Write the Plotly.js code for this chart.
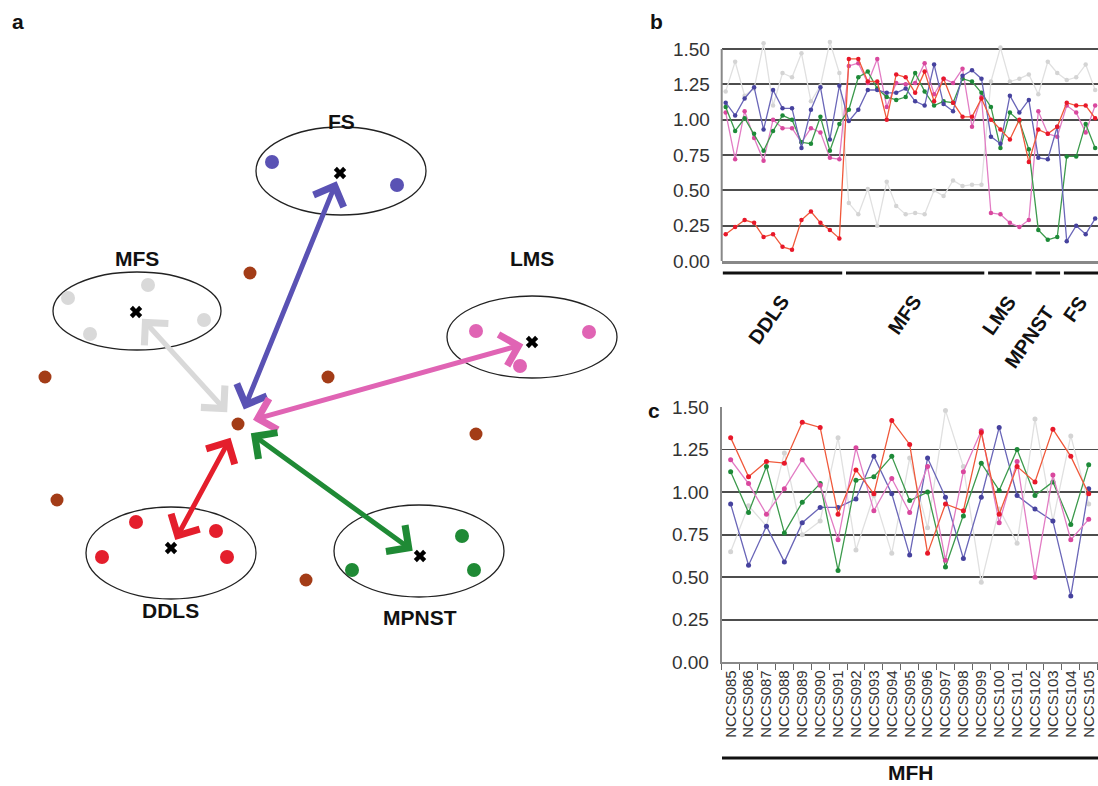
<!DOCTYPE html>
<html><head><meta charset="utf-8">
<script src="https://cdn.plot.ly/plotly-3.0.1.min.js"></script>
<style>html,body{margin:0;padding:0;background:#fff}#chart{width:1098px;height:786px}</style>
</head><body><div id="chart"></div>
<script>
// ---------- Panel a (schematic, pixel-like coordinate space) ----------
const hubX = 238, hubY = 424;
const clusterNames = ['FS', 'MFS', 'LMS', 'DDLS', 'MPNST'];
const clusterColors = ['#5a52b4', '#d9d9d9', '#e064b4', '#e41e2c', '#1f8a35'];
const centreX = [340, 136, 532, 171, 420];
const centreY = [173, 312, 342, 548, 556];
const ellipseCX = [341, 137, 532, 171, 419];
const ellipseCY = [171, 311, 337, 553, 551];
const ellipseRX = [85, 84, 85, 85, 85];
const ellipseRY = [44, 39, 41, 46, 46];
const labelX = [341, 137, 532, 170, 420];
const labelY = [121, 258, 258, 610, 617];
const memberX = [[272, 397], [68, 148, 204, 90], [476, 589, 520], [136, 102, 216, 227], [462, 352, 474]];
const memberY = [[162, 185], [298, 285, 320, 334], [331, 332, 366], [522, 557, 531, 557], [536, 570, 570]];
const otherX = [250, 45, 328, 476, 57, 306];
const otherY = [273, 377, 377, 434, 500, 580];

// ---------- Panel b ----------
const groupsB = ['DDLS', 'MFS', 'LMS', 'MPNST', 'FS'];
const groupSizesB = [13, 15, 5, 3, 4];
const redB = [0.19,0.24,0.29,0.27,0.17,0.19,0.10,0.08,0.29,0.35,0.27,0.22,0.16,
  1.43,1.43,1.27,1.27,1.00,1.32,1.30,1.19,1.34,1.13,1.29,1.12,1.02,1.02,1.15,
  1.00,0.93,0.86,1.00,0.70, 0.93,0.90,0.95, 1.12,1.10,1.10,1.01];
const blueB = [1.12,1.03,1.15,1.23,0.93,1.21,1.08,1.08,0.80,1.07,1.23,0.86,1.24,
  0.99,1.07,1.21,1.21,1.19,1.19,1.22,1.13,1.10,1.39,1.11,1.06,1.31,1.35,1.29,
  0.88,0.83,1.17,1.05,1.14, 0.73,0.72,0.95, 0.14,0.25,0.19,0.30];
const greenB = [1.09,0.92,1.01,0.90,0.78,0.92,1.03,1.00,0.84,0.83,1.02,0.78,0.97,
  1.07,1.30,1.34,1.22,1.16,1.14,1.16,1.33,1.20,1.10,1.13,1.12,1.29,1.27,1.19,
  1.09,0.80,1.05,0.99,0.79, 0.22,0.15,0.17, 0.74,0.74,0.97,0.80];
const pinkB = [1.05,0.72,1.06,0.87,0.71,1.00,0.94,0.94,0.84,0.94,0.91,0.73,0.72,
  1.38,1.40,1.26,1.43,1.09,1.26,1.25,1.26,1.40,1.18,1.29,1.26,1.36,0.95,1.16,
  0.34,0.33,0.27,0.24,0.29, 1.06,0.90,0.88, 1.10,1.05,0.91,1.10];
const grayB = [1.20,1.41,1.17,1.22,1.54,1.10,1.33,1.30,1.47,1.13,1.24,1.55,1.33,
  0.41,0.33,0.51,0.25,0.56,0.39,0.33,0.34,0.33,0.50,0.46,0.57,0.53,0.54,0.54,
  1.27,1.51,1.27,1.29,1.32, 1.18,1.41,1.33, 1.28,1.30,1.39,1.21];

// ---------- Panel c ----------
const samplesC = ['NCCS085','NCCS086','NCCS087','NCCS088','NCCS089','NCCS090','NCCS091','NCCS092',
  'NCCS093','NCCS094','NCCS095','NCCS096','NCCS097','NCCS098','NCCS099','NCCS100','NCCS101',
  'NCCS102','NCCS103','NCCS104','NCCS105'];
const redC = [1.32,1.09,1.18,1.17,1.41,1.38,0.87,1.13,0.99,1.42,1.28,0.64,0.93,0.89,1.35,0.87,1.15,1.06,1.37,1.21,0.99];
const pinkC = [1.19,1.05,0.87,1.02,1.19,1.04,0.72,1.26,0.89,1.08,0.88,1.15,0.60,1.12,1.36,0.82,1.18,0.50,1.10,0.72,0.84];
const greenC = [1.12,0.88,1.15,0.76,0.94,1.05,0.54,1.07,1.09,1.21,0.95,1.00,0.56,0.86,1.17,1.01,1.25,0.98,1.06,0.81,1.16];
const blueC = [0.93,0.57,0.80,0.59,0.82,0.91,0.91,0.96,1.21,0.99,0.63,1.20,0.97,0.61,0.97,1.38,0.98,0.90,0.83,0.39,1.02];
const grayC = [0.65,0.92,0.80,1.23,0.75,0.83,1.32,0.66,0.98,0.64,1.20,0.79,1.48,1.15,0.47,0.90,0.70,1.43,0.83,1.33,0.93];
const groupC = 'MFH';

const yTicks = [0, 0.25, 0.5, 0.75, 1.0, 1.25, 1.5];
const yTickText = ['0.00', '0.25', '0.50', '0.75', '1.00', '1.25', '1.50'];

// ---------- styles ----------
const W = 1098, H = 786;
const FONT = 'Liberation Sans, Arial, Helvetica, sans-serif';
const px = v => v / W;
const py = v => 1 - v / H;
const seriesStyle = {
  gray:  {line: '#e0e0e0', marker: '#d4d4d4'},
  blue:  {line: '#6a66b8', marker: '#46429e'},
  green: {line: '#3c9a4c', marker: '#1d8a38'},
  pink:  {line: '#e27cc4', marker: '#d9489e'},
  red:   {line: '#f0583a', marker: '#e8182a'}
};

const traces = [];
// panel a points
clusterNames.forEach((n, k) => {
  traces.push({type: 'scatter', mode: 'markers', x: memberX[k], y: memberY[k], xaxis: 'x3', yaxis: 'y3',
    marker: {size: 14, color: clusterColors[k]}, hoverinfo: 'skip', showlegend: false});
});
traces.push({type: 'scatter', mode: 'markers', x: otherX.concat([hubX]), y: otherY.concat([hubY]), xaxis: 'x3', yaxis: 'y3',
  marker: {size: 13, color: '#a33c17'}, hoverinfo: 'skip', showlegend: false});
traces.push({type: 'scatter', mode: 'markers', x: centreX, y: centreY, xaxis: 'x3', yaxis: 'y3',
  marker: {size: 11, symbol: 'x', color: '#000'}, hoverinfo: 'skip', showlegend: false});

// panel b lines
const xB = redB.map((_, i) => i);
[['gray', grayB], ['pink', pinkB], ['green', greenB], ['blue', blueB], ['red', redB]].forEach(([c, arr]) => {
  traces.push({type: 'scatter', mode: 'lines+markers', x: xB, y: arr, xaxis: 'x', yaxis: 'y',
    line: {color: seriesStyle[c].line, width: 1.3}, marker: {size: 4.5, color: seriesStyle[c].marker},
    cliponaxis: false, hoverinfo: 'skip', showlegend: false});
});
// panel c lines
[['gray', grayC], ['blue', blueC], ['green', greenC], ['pink', pinkC], ['red', redC]].forEach(([c, arr]) => {
  traces.push({type: 'scatter', mode: 'lines+markers', x: samplesC, y: arr, xaxis: 'x2', yaxis: 'y2',
    line: {color: seriesStyle[c].line, width: 1.3}, marker: {size: 5, color: seriesStyle[c].marker},
    cliponaxis: false, hoverinfo: 'skip', showlegend: false});
});

const shapes = [];
const annotations = [];
const centred = {xanchor: 'center', yanchor: 'middle', showarrow: false};
// ellipses + labels + arrows (panel a)
clusterNames.forEach((n, k) => {
  shapes.push({type: 'circle', xref: 'x3', yref: 'y3', layer: 'below',
    x0: ellipseCX[k] - ellipseRX[k], x1: ellipseCX[k] + ellipseRX[k],
    y0: ellipseCY[k] - ellipseRY[k], y1: ellipseCY[k] + ellipseRY[k],
    line: {color: '#222', width: 1.3}});
  annotations.push(Object.assign({xref: 'x3', yref: 'y3', x: labelX[k], y: labelY[k], text: '<b>' + n + '</b>',
    font: {family: FONT, size: 21, color: '#111'}}, centred));
  annotations.push({xref: 'x3', yref: 'y3', axref: 'x3', ayref: 'y3', x: centreX[k], y: centreY[k], ax: hubX, ay: hubY,
    text: '', showarrow: true, arrowside: 'end+start', arrowhead: 4, startarrowhead: 4,
    arrowsize: 1.25, startarrowsize: 1.25, arrowwidth: 5, arrowcolor: clusterColors[k],
    standoff: 9, startstandoff: 14});
});

// panel b group bars and labels
let start = 0;
groupsB.forEach((g, k) => {
  const end = start + groupSizesB[k] - 1;
  shapes.push({type: 'line', xref: 'x', yref: 'paper', x0: start - 0.3, x1: Math.min(end + 0.3, 39.3),
    y0: py(273), y1: py(273), line: {color: '#111', width: 3}});
  const mid = (start + end) / 2;
  annotations.push({xref: 'x', yref: 'paper', x: mid + 1.4, y: py(g === 'MPNST' ? 299 : 289),
    xanchor: 'right', yanchor: 'top', text: '<b>' + g + '</b>', textangle: -55, showarrow: false,
    font: {family: FONT, size: 20, color: '#111'}});
  start = end + 1;
});
// panel b left axis line
shapes.push({type: 'line', xref: 'x domain', yref: 'y', x0: 0, x1: 0, y0: 0, y1: 1.5, line: {color: '#888', width: 2}});

// panel c MFH bar and label
shapes.push({type: 'line', xref: 'paper', yref: 'paper', x0: px(722), x1: 1, y0: py(758), y1: py(758), line: {color: '#111', width: 3}});
annotations.push(Object.assign({xref: 'paper', yref: 'paper', x: px(911), y: py(772), text: '<b>' + groupC + '</b>',
  font: {family: FONT, size: 21, color: '#111'}, borderpad: 0}, centred));

// panel letters
[['a', 18, 22], ['b', 656, 22], ['c', 654, 410]].forEach(([t, x, y]) => {
  annotations.push(Object.assign({xref: 'paper', yref: 'paper', x: px(x), y: py(y), text: '<b>' + t + '</b>',
    font: {family: FONT, size: 21, color: '#111'}}, centred));
});

const yAxisCommon = {tickvals: yTicks, ticktext: yTickText, showgrid: true, gridcolor: '#4d4d4d', gridwidth: 1.8,
  zeroline: false, ticks: 'outside', ticklen: 7, tickcolor: 'rgba(0,0,0,0)', tickfont: {family: FONT, size: 19, color: '#333'}};

const layout = {
  width: W, height: H, margin: {l: 0, r: 0, t: 0, b: 0}, paper_bgcolor: '#fff', plot_bgcolor: 'rgba(0,0,0,0)',
  showlegend: false, font: {family: FONT},
  xaxis: {domain: [px(721.7), 1], range: [-0.42, 39.3], showgrid: false, zeroline: false, showticklabels: false,
    ticks: '', showline: true, linecolor: '#888', linewidth: 3, anchor: 'y'},
  yaxis: Object.assign({domain: [py(261), py(37.7)], range: [0, 1.58], showline: false, anchor: 'x'}, yAxisCommon),
  xaxis2: {domain: [px(721.7), 1], type: 'category', range: [-0.5, 20.52], showgrid: false, zeroline: false,
    tickmode: 'array', tickvals: samplesC, ticktext: samplesC,
    tickson: 'boundaries', ticks: 'outside', ticklen: 6, tickcolor: '#666', tickangle: -90,
    tickfont: {family: FONT, size: 15, color: '#333'}, showline: true, linecolor: '#888', linewidth: 2, anchor: 'y2'},
  yaxis2: Object.assign({domain: [py(662.3), py(407)], range: [0, 1.5], showline: true, linecolor: '#888', linewidth: 2, anchor: 'x2'}, yAxisCommon),
  xaxis3: {domain: [0, px(640)], range: [0, 640], visible: false, anchor: 'y3'},
  yaxis3: {domain: [0, 1], range: [786, 0], visible: false, anchor: 'x3'},
  shapes: shapes, annotations: annotations
};

Plotly.newPlot('chart', traces, layout, {staticPlot: true, displayModeBar: false});
</script>
</body></html>
